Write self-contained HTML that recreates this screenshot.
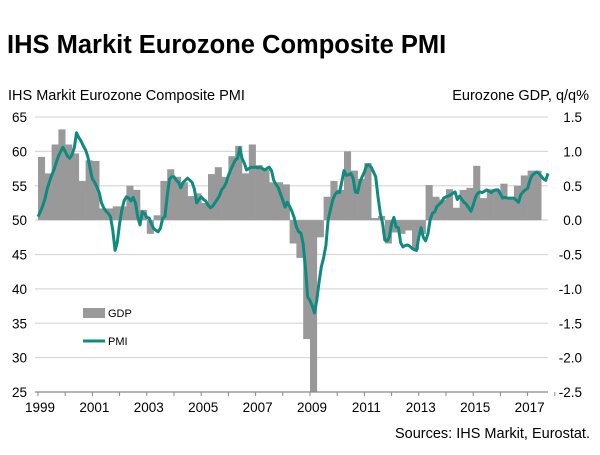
<!DOCTYPE html>
<html><head><meta charset="utf-8"><style>
body{margin:0;background:#fff;width:600px;height:450px;overflow:hidden;font-family:"Liberation Sans",Arial,sans-serif}
svg text{font-family:"Liberation Sans",Arial,sans-serif}
</style></head><body>
<svg id="chart" width="600" height="450">
<text x="7" y="53" font-size="25.5" font-weight="bold" fill="#000">IHS Markit Eurozone Composite PMI</text>
<text x="8" y="100" font-size="14.5" fill="#000">IHS Markit Eurozone Composite PMI</text>
<text x="589" y="100" font-size="14.5" fill="#000" text-anchor="end">Eurozone GDP, q/q%</text>
<text x="590" y="438" font-size="14.5" fill="#000" text-anchor="end">Sources: IHS Markit, Eurostat.</text>
<g id="grid"></g><g id="bars"></g><g id="line"></g><g id="axes"></g>
<g>
<rect x="83" y="308" width="22" height="10" fill="#999"/>
<text x="108" y="317" font-size="11">GDP</text>
<line x1="83" y1="341" x2="105" y2="341" stroke="#0d8b80" stroke-width="3"/>
<text x="108" y="345" font-size="11">PMI</text>
</g>
</svg>
<script>
const leftTicks=[65,60,55,50,45,40,35,30,25];
const rightTicks=["1.5","1.0","0.5","0.0","-0.5","-1.0","-1.5","-2.0","-2.5"];
const yearLabels=[1999,2001,2003,2005,2007,2009,2011,2013,2015,2017];
const gdp=[0.92,0.68,1.1,1.32, 1.1,0.97,0.57,0.87, 0.86,0.17,0.17,0.2, 0.2,0.5,0.44,0.15,
-0.2,0.07,0.57,0.74, 0.63,0.55,0.35,0.39, 0.25,0.67,0.77,0.63, 0.93,1.08,0.68,1.1,
0.8,0.73,0.55,0.55, 0.52,-0.34,-0.55,-1.73, -2.9,-0.25,0.34,0.57, 0.44,1.0,0.72,0.6,
0.83,0.03,0.06,-0.34, -0.18,-0.2,-0.15,-0.43, -0.2,0.51,0.34,0.3, 0.45,0.18,0.44,0.47,
0.79,0.32,0.45,0.44, 0.53,0.32,0.5,0.65, 0.72,0.72];
const pmi=[50.5,51.2,52,53,54.5,55.5,56.5,57.3,58.3,59.3,60,60.6,
60.0,59.3,59.0,59.5,60.5,62.7,62.0,61.5,60.8,60.2,59.2,57.5,
56.0,55.5,54.8,54.0,52.5,51.8,51.3,51.0,50.5,48.5,45.6,46.8,
49.5,51.5,52.8,53.4,53.2,52.8,53.3,52.5,50.5,49.3,51.2,51.0,
50.4,50.3,49.5,48.8,48.5,48.3,48.8,50.3,50.5,53.5,56.0,56.3,
56.3,55.8,55.5,54.7,55.5,55.8,56.1,55.8,55.5,54.5,52.5,53.0,
53.4,53.0,52.8,52.2,51.8,52.0,52.5,53.0,53.5,54.4,54.8,55.4,
56.5,57.3,58.0,58.7,59.0,60.5,59.0,58.3,57.3,57.5,57.7,57.7,
57.7,57.6,57.7,57.5,57.3,57.5,57.7,57.2,55.8,55.2,54.7,53.8,
52.9,51.9,52.6,52.0,51.3,50.4,49.0,48.3,48.1,46.5,43.0,38.8,
38.3,37.5,36.5,38.4,41.0,43.2,44.5,46.3,50.0,51.5,52.9,53.7,
54.1,54.0,55.5,57.2,56.5,56.6,56.8,56.1,54.1,54.0,55.5,56.3,
57.0,58.0,58.0,57.7,57.0,56.3,53.4,51.0,49.6,47.1,47.0,47.5,
49.5,50.4,49.0,48.9,46.7,46.1,46.3,46.4,46.2,45.9,45.7,45.6,
47.5,48.9,47.5,47.0,48.0,50.0,51.0,51.2,52.0,52.3,52.6,53.2,
53.4,53.5,53.7,53.9,54.1,53.0,53.5,53.0,52.6,52.3,51.8,51.3,
52.2,53.3,53.9,54.1,54.0,54.2,54.4,54.2,54.0,54.3,54.4,54.4,
53.8,53.2,53.3,53.2,53.2,53.2,53.2,52.9,52.6,53.7,54.1,54.4,
54.6,55.8,56.5,56.8,57.0,56.8,56.4,56.0,55.8,56.8];

const NS="http://www.w3.org/2000/svg";
const X0=38, YR=27.2, PL=35, PR=548, YT=117, YB=392;
const yL=v=>YT+(65-v)*(YB-YT)/40;
const yR=v=>YT+(1.5-v)*(YB-YT)/4;
const xT=t=>X0+t*YR;
function mk(tag,attrs,parent){const e=document.createElementNS(NS,tag);for(const k in attrs)e.setAttribute(k,attrs[k]);parent.appendChild(e);return e;}
const grid=document.getElementById('grid'),bars=document.getElementById('bars'),line=document.getElementById('line'),axes=document.getElementById('axes');
leftTicks.forEach((v,i)=>{
  const y=yL(v);
  if(v>25){const g=mk('line',{x1:PL,x2:PR,y1:y,y2:y,stroke:'#d9d9d9','stroke-width':1.2},grid);
  
  }
  const t=mk('text',{x:27,y:y+5,'font-size':13.5,'text-anchor':'end'},axes);t.textContent=v;
  
  
  const r=mk('text',{x:582,y:yR(1.5-0.5*i)+5,'font-size':13.5,'text-anchor':'end'},axes);r.textContent=rightTicks[i];
  
  
});
gdp.forEach((v,i)=>{
  const x=xT(i/4),w=YR/4,y0=yR(0);let y=yR(v);if(y>YB)y=YB;
  const b=mk('rect',{x:x,y:Math.min(y,y0),width:w+0.3,height:Math.abs(y-y0),fill:'#999'},bars);
  
  
});
const pts=pmi.map((v,i)=>xT(i/12).toFixed(1)+','+yL(v).toFixed(1)).join(' ');
const pl=mk('polyline',{points:pts,fill:'none',stroke:'#0d8b80','stroke-width':3,'stroke-linejoin':'round'},line);


const ax=mk('line',{x1:PL,x2:PR,y1:YB,y2:YB,stroke:'#888','stroke-width':1.2},axes);


for(let k=0;k<=19;k++){const tk=mk('line',{x1:xT(k),x2:xT(k),y1:YB,y2:YB+4,stroke:'#888'},axes);

}
yearLabels.forEach(yr=>{
  const t=mk('text',{x:xT(yr-1999)+2,y:412,'font-size':13.5,'text-anchor':'middle'},axes);t.textContent=yr;
  
  
});
</script>
</body></html>
